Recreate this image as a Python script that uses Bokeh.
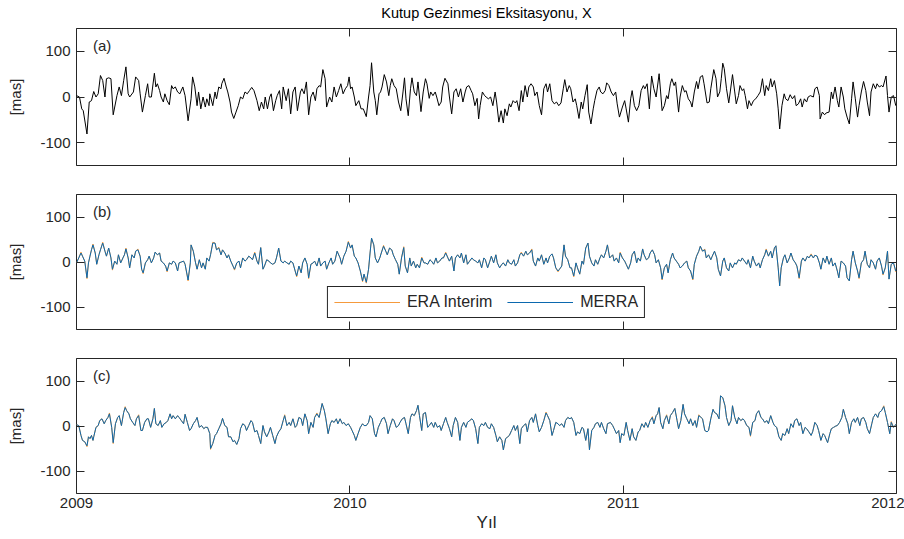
from bokeh.plotting import figure
from bokeh.models import Range1d, FixedTicker, LinearAxis, Label
from bokeh.layouts import column
from bokeh.embed import file_html
from bokeh.resources import INLINE

TITLE = "Kutup Gezinmesi Eksitasyonu, X"
X_LABEL = "Yıl"
Y_LABEL = "[mas]"
PANEL_TAGS = ["(a)", "(b)", "(c)"]
SERIES_NAMES = ["ERA Interim", "MERRA"]
YEAR_TICKS = [2009, 2010, 2011, 2012]
Y_TICKS = [-100, 0, 100]
START_YEAR = 2009
DAYS_IN_YEAR = 365

# (a) total excitation, days since 2009-01-01 and values [mas]
A_DAYS = [
    0, 4, 7, 9, 14, 17, 20, 23, 26, 29,
    32, 35, 38, 40, 43, 46, 49, 54, 57, 60,
    63, 66, 69, 71, 76, 79, 83, 85, 88, 92,
    95, 97, 100, 104, 106, 108, 111, 113, 116, 118,
    121, 124, 127, 129, 132, 135, 138, 142, 145, 149,
    153, 155, 158, 161, 163, 166, 169, 172, 174, 177,
    178, 182, 185, 187, 190, 193, 194, 197, 200, 202,
    205, 207, 210, 213, 216, 219, 222, 225, 228, 231,
    234, 237, 241, 244, 247, 250, 252, 255, 258, 260,
    263, 266, 268, 271, 274, 276, 280, 283, 286, 289,
    292, 295, 299, 301, 304, 307, 310, 313, 316, 319,
    321, 324, 326, 329, 332, 334, 338, 341, 344, 347,
    350, 353, 356, 359, 362, 364,
    366, 368, 371, 373, 377, 380, 383, 387, 390, 392,
    394, 397, 399, 401, 404, 406, 408, 411, 414, 417,
    419, 421, 424, 427, 430, 433, 436, 438, 440, 443,
    446, 448, 451, 454, 456, 460, 463, 466, 468, 471,
    473, 476, 479, 481, 484, 487, 489, 492, 496, 498,
    501, 504, 507, 510, 513, 516, 519, 521, 524, 527,
    529, 532, 535, 537, 539, 542, 545, 547, 550, 553,
    556, 559, 561, 564, 567, 570, 572, 575, 578, 580,
    583, 586, 588, 591, 594, 596, 599, 602, 604, 607,
    610, 612, 615, 618, 621, 624, 627, 629, 632, 635,
    638, 641, 644, 647, 650, 652, 655, 658, 660, 663,
    666, 668, 671, 674, 676, 679, 682, 684, 687, 690,
    692, 695, 698, 700, 703, 706, 708, 711, 714,
    717, 720, 722, 725, 729, 732, 734, 737, 740, 742,
    745, 748, 751, 754, 757, 759, 762, 765, 768, 771,
    774, 778, 780, 782, 785, 788, 790, 793, 795, 798,
    800, 804, 806, 809, 812, 814, 817, 820, 822, 825,
    828, 830, 833, 836, 838, 842, 845, 847, 851, 854,
    856, 859, 861, 863, 865, 868, 871, 873, 876, 879,
    881, 884, 886, 889, 891, 893, 896, 898, 901, 904,
    907, 910, 913, 916, 919, 921, 924, 927, 929, 932,
    935, 937, 939, 942, 945, 947, 950, 953, 956, 959,
    961, 964, 967, 969, 972, 975, 977, 980, 984, 986,
    989, 992, 993, 996, 999, 1001, 1005, 1008, 1010, 1013,
    1016, 1018, 1021, 1024, 1026, 1029, 1032, 1035, 1037, 1040,
    1043, 1045, 1048, 1051, 1054, 1056, 1059, 1061, 1064, 1067,
    1069, 1072, 1075, 1077, 1081, 1083, 1085, 1088, 1091, 1094,
]
A_VALUES = [
    3, 0, -26, -30, -81, -11, -8, 12, 0, 7,
    47, 36, 0, 40, 42, 40, -39, 3, 22, 3,
    36, 66, 7, 0, 11, 44, 36, 7, -33, 3,
    29, 0, 0, 52, 22, 29, 14, 0, -11, 7,
    -8, -17, 25, 18, 22, 11, 7, 22, 3, -52,
    -4, 44, 22, -19, 11, -26, 0, -22, -4, -19,
    7, -19, 11, -4, 22, 18, 29, 41, 22, 11,
    -11, -33, -47, -33, -19, 0, -4, 11, 7, 14,
    21, 14, -8, -30, -11, -26, 0, -26, 0, 7,
    -30, -8, 3, 14, -26, 22, -8, 18, -37, 11,
    22, -30, 11, 18, 7, 33, -39, 0, 11, -8,
    18, 25, 22, 60, 40, -22, 0, -11, 22, 0,
    14, 29, 7, 18, 25, 44,
    18, 22, 0, -19, -8, -26, -26, -43, 0, 25,
    75, 11, -8, -39, 7, 11, 22, 49, 33, 3,
    25, 40, 25, 18, -11, -30, 11, 42, -4, -41,
    18, 42, 11, 3, 33, -32, 11, 40, 29, -3,
    11, 3, 11, 0, -19, -11, 22, 41, 29, 0,
    -37, 11, 18, 0, 18, -11, 11, 22, 25, 14,
    7, -19, -3, -48, -19, 11, 3, 0, -4, 0,
    -19, 11, -11, -55, -30, -57, -26, -41, -15, -22,
    -8, -13, -8, -30, 14, -11, 25, 0, 22, 29,
    22, 3, 11, -19, -39, 18, 29, 11, 29, -8,
    -15, -11, -19, -13, 18, 38, 11, 25, 18, -11,
    -4, -19, -47, -11, -26, 3, 27, -33, -59, -26,
    -8, 14, 22, 11, 7, 14, 31, 25, 11,
    3, 11, -15, -44, -22, -8, -26, -55, -4, 14,
    -19, -30, -19, 14, 25, 18, 29, -26, 46, 18,
    0, 51, 11, -30, -19, 3, -4, 29, 40, 25,
    33, -33, 0, 25, 11, 14, -4, -11, -22, 11,
    34, 18, 44, 47, 29, -13, -11, 18, 60, 40,
    0, 11, 40, 74, 62, 18, -13, 11, 49, 11,
    -15, 3, 25, 14, 18, 3, -26, -8, -19, -8,
    -4, 3, 11, 40, 3, 25, 14, 40, 22, 36,
    7, -26, -70, -19, 7, -4, -8, 5, -4, 3,
    -19, -15, -4, -22, -4, -11, 0, 3, 0, 18,
    22, 3, -48, -33, -39, -35, -33, 11, -4, 22,
    -8, -22, 22, 0, -26, -44, -59, -4, 33, -4,
    -44, -19, 11, 34, 14, -11, -41, 11, 29, 18,
    29, 22, 25, 22, 46, 3, -33, 0, 3, -19,
]

# (b) and (c): days since 2009-01-01 and the two reanalysis series [mas]
B_DAYS = [
    0, 3, 6, 8, 11, 14, 16, 18, 20, 22,
    25, 27, 30, 32, 35, 38, 40, 43, 46, 48,
    51, 54, 56, 59, 62, 64, 66, 69, 71, 74,
    77, 79, 82, 85, 87, 89, 92, 95, 97, 100,
    103, 105, 108, 111, 113, 116, 119, 121, 124, 127,
    129, 132, 135, 137, 140, 143, 145, 149, 152, 153,
    156, 159, 161, 164, 167, 169, 172, 174, 177, 179,
    182, 185, 187, 190, 193, 195, 198, 201, 203, 206,
    209, 211, 214, 217, 219, 222, 225, 227, 230, 233,
    235, 238, 241, 243, 246, 249, 251, 254, 257, 259,
    262, 265, 267, 270, 273, 276, 278, 281, 284, 286,
    289, 292, 294, 297, 300, 302, 305, 308, 310, 313,
    316, 318, 321, 324, 326, 329, 332, 334, 337, 340,
    342, 345, 348, 352, 354, 357, 360, 363, 366, 368,
    371, 373, 376, 379, 382, 384, 387, 390, 392, 394,
    397, 399, 402, 405, 407, 410, 413, 415, 418, 421,
    423, 426, 429, 431, 434, 437, 439, 442, 445, 447,
    450, 453, 455, 458, 461, 464, 466, 469, 472, 474,
    477, 480, 482, 485, 488, 490, 493, 496, 498, 501,
    504, 506, 509, 512, 514, 517, 520, 522, 525, 528,
    530, 533, 536, 538, 541, 544, 546, 549, 552, 554,
    557, 560, 562, 565, 568, 570, 573, 576, 578, 581,
    584, 586, 589, 592, 594, 597, 600, 602, 605, 608,
    610, 613, 616, 618, 621, 624, 627, 629, 632, 635,
    637, 640, 643, 645, 648, 651, 653, 656, 659, 661,
    664, 667, 669, 672, 675, 677, 680, 683, 685, 688,
    691, 693, 696, 699, 701, 704, 707, 709, 712, 716,
    718, 721, 724, 726, 729, 732, 734, 737, 740, 742,
    745, 748, 750, 753, 756, 758, 761, 764, 766, 769,
    772, 774, 777, 780, 782, 785, 788, 790, 793, 796,
    798, 801, 804, 806, 809, 812, 815, 817, 820, 823,
    825, 828, 831, 833, 836, 839, 841, 844, 847, 849,
    852, 855, 857, 860, 863, 865, 868, 871, 873, 876,
    879, 881, 884, 887, 889, 892, 895, 897, 900, 903,
    905, 908, 911, 913, 916, 919, 921, 924, 927, 929,
    932, 934, 937, 939, 941, 944, 946, 949, 952, 954,
    957, 960, 962, 965, 968, 970, 973, 976, 978, 981,
    984, 986, 989, 992, 994, 997, 1000, 1002, 1005, 1008,
    1010, 1013, 1016, 1018, 1021, 1024, 1027, 1029, 1032, 1035,
    1037, 1040, 1043, 1045, 1048, 1051, 1053, 1056, 1059, 1061,
    1064, 1067, 1069, 1072, 1075, 1077, 1080, 1083, 1085, 1088,
    1091, 1094,
]
B_MERRA = [
    -2, 9, 20, 13, 2, -35, -2, 13, 27, 38,
    20, -5, 16, 27, 42, 24, 13, 31, 9, -16,
    2, -5, 16, -2, 9, 16, 29, 9, -13, 16,
    9, 24, 27, 13, -16, -24, -2, 5, 13, -2,
    9, 22, 16, 20, 2, -2, -9, -20, -2, -5,
    2, -2, -20, -2, 0, 2, -5, -40, -2, 38,
    24, -2, -16, 5, -13, -2, -16, 9, 2, 16,
    42, 42, 27, 31, 16, 27, 20, 9, 16, 2,
    -9, -16, -2, 2, -13, 9, 2, 5, 13, 9,
    5, 20, 2, -5, 32, -16, -9, 5, 2, -2,
    -5, -2, 9, 31, 2, -2, 2, -2, -5, 2,
    -2, -20, -31, -9, -24, -2, 9, -5, -35, -5,
    -2, 2, -9, 9, -9, -2, 2, -16, -2, 9,
    -5, 2, 24, 9, -5, 13, 24, 44, 31, 38,
    13, 9, -2, -20, -42, -27, -45, -16, 20, 53,
    38, 9, -2, 9, 20, 35, 24, 16, 31, 27,
    16, 5, -5, -27, 9, 32, -9, -24, 9, -9,
    2, -13, -5, -13, 9, -2, -2, -5, 5, 2,
    -5, 9, -2, 2, 9, 9, 20, 9, 2, 13,
    -20, 9, 16, 9, 20, -2, 16, -5, 2, 9,
    5, 2, -2, 5, -13, 9, 5, -13, 2, 13,
    -2, 16, -2, -13, -5, -2, -9, 5, -2, -5,
    5, -9, -2, 16, 20, 13, 24, 16, 20, 27,
    2, -9, 9, 2, 16, -5, 9, -2, 13, 18,
    9, -13, -20, -16, -9, 38, 13, 5, -13, -13,
    -31, -2, -13, -27, 2, -5, 31, 42, 13, -2,
    -9, 5, -5, 9, 16, 9, 24, 38, 9, 16,
    2, 9, -2, 20, 9, 2, -5, -16, -2, 16,
    24, -2, 9, 2, 29, 16, 5, 9, 20, 27,
    16, -2, 5, -13, -38, -13, -5, -24, 5, 20,
    9, 2, -5, -13, -9, -2, 2, -13, -20, -38,
    -5, 13, 24, 35, 24, 27, 9, 16, 5, 13,
    24, 9, -16, -31, 2, 9, -13, -20, -2, -13,
    -2, -5, 5, 2, 9, 2, -5, 5, -13, 13,
    2, -9, -2, -13, 5, 16, 27, 13, 24, 9,
    31, 36, -13, -53, -13, 9, 16, -2, 9, 20,
    5, -2, -9, -35, 2, 9, 2, 13, 9, 16,
    9, 15, 13, -2, -16, 9, -2, 13, -5, 9,
    -9, -2, -20, -35, 2, -2, -9, -35, -42, 5,
    24, -2, -20, -35, -2, 5, 24, -5, -13, 5,
    -2, -16, 2, 9, -9, -27, -13, 24, -38, -5,
    -2, -20,
]
B_ERA = [
    -2, 9, 22, 13, 2, -37, -2, 13, 27, 40,
    20, -5, 16, 27, 44, 24, 13, 31, 9, -18,
    2, -5, 16, -2, 9, 16, 31, 9, -13, 16,
    9, 24, 29, 13, -16, -26, -2, 5, 13, -2,
    9, 22, 16, 20, 2, -2, -9, -22, -2, -5,
    2, -2, -20, -2, 0, 2, -5, -42, -2, 38,
    24, -2, -16, 5, -13, -2, -16, 9, 2, 16,
    44, 42, 27, 33, 16, 27, 20, 9, 16, 2,
    -9, -18, -2, 2, -13, 9, 2, 5, 13, 9,
    5, 22, 2, -5, 32, -16, -9, 5, 2, -2,
    -5, -2, 9, 31, 2, -2, 2, -2, -5, 2,
    -2, -20, -33, -9, -24, -2, 9, -5, -37, -5,
    -2, 2, -9, 9, -9, -2, 2, -16, -2, 9,
    -5, 2, 24, 9, -5, 13, 24, 46, 31, 38,
    13, 9, -2, -20, -44, -27, -47, -16, 20, 53,
    38, 9, -2, 9, 20, 37, 24, 16, 31, 27,
    16, 5, -5, -27, 9, 34, -9, -24, 9, -9,
    2, -13, -5, -13, 11, -2, -2, -5, 5, 2,
    -5, 9, -2, 2, 9, 9, 22, 9, 2, 13,
    -20, 9, 16, 9, 20, -2, 16, -5, 2, 9,
    5, 2, -2, 5, -13, 9, 5, -13, 2, 13,
    -2, 16, -2, -13, -5, -2, -9, 5, -2, -5,
    5, -9, -2, 16, 22, 13, 24, 16, 20, 29,
    2, -9, 9, 2, 16, -5, 9, -2, 13, 18,
    9, -13, -22, -16, -9, 38, 13, 5, -13, -13,
    -33, -2, -13, -27, 2, -5, 31, 42, 13, -2,
    -9, 5, -5, 9, 16, 9, 24, 38, 9, 16,
    2, 9, -2, 22, 9, 2, -5, -16, -2, 16,
    24, -2, 9, 2, 29, 16, 5, 9, 20, 27,
    16, -2, 5, -13, -40, -13, -5, -24, 5, 20,
    9, 2, -5, -13, -9, -2, 2, -13, -20, -40,
    -5, 13, 24, 35, 24, 29, 9, 16, 5, 13,
    24, 9, -16, -31, 2, 9, -13, -20, -2, -13,
    -2, -5, 5, 2, 9, 2, -5, 5, -13, 13,
    2, -9, -2, -13, 5, 16, 29, 13, 24, 9,
    31, 36, -13, -53, -13, 9, 16, -2, 9, 20,
    5, -2, -9, -37, 2, 9, 2, 13, 9, 18,
    9, 15, 13, -2, -16, 9, -2, 13, -5, 9,
    -9, -2, -20, -35, 2, -2, -9, -35, -42, 5,
    24, -2, -20, -37, -2, 5, 24, -5, -13, 5,
    -2, -16, 2, 9, -9, -29, -13, 24, -38, -5,
    -2, -22,
]

C_DAYS = [
    0, 3, 6, 8, 11, 14, 16, 18, 20, 22,
    23, 26, 29, 31, 34, 37, 39, 42, 44, 47,
    49, 52, 55, 57, 60, 63, 65, 67, 70, 72,
    75, 78, 80, 83, 86, 88, 91, 94, 96, 99,
    102, 104, 106, 109, 112, 114, 117, 120, 122, 125,
    127, 129, 132, 135, 137, 140, 143, 145, 148, 151,
    153, 156, 159, 161, 164, 167, 170, 172, 175, 178,
    179, 182, 185, 187, 190, 193, 195, 198, 201, 203,
    206, 209, 211, 214, 217, 219, 222, 225, 227, 230,
    233, 235, 238, 241, 243, 246, 249, 251, 254, 257,
    259, 262, 265, 267, 270, 273, 276, 278, 281, 284,
    286, 289, 292, 294, 297, 300, 302, 305, 308, 310,
    313, 316, 318, 321, 324, 326, 328, 331, 333, 336,
    339, 341, 344, 347, 349, 352, 355, 357, 360, 363,
    366, 368, 371, 373, 376, 379, 382, 384, 387, 390,
    392, 395, 398, 400, 403, 406, 408, 411, 414, 416,
    419, 422, 424, 427, 430, 432, 435, 438, 440, 443,
    446, 448, 451, 454, 456, 458, 461, 463, 466, 469,
    471, 474, 477, 479, 482, 485, 487, 490, 493, 495,
    498, 501, 503, 506, 509, 512, 514, 517, 520, 522,
    525, 528, 530, 533, 536, 538, 541, 544, 546, 549,
    552, 554, 557, 560, 562, 565, 568, 570, 573, 576,
    578, 581, 584, 586, 589, 592, 594, 597, 600, 602,
    605, 608, 610, 613, 616, 618, 621, 624, 627, 629,
    632, 635, 637, 640, 643, 645, 648, 651, 653, 656,
    659, 661, 664, 667, 669, 672, 675, 677, 680, 683,
    685, 688, 691, 693, 696, 699, 701, 704, 707, 709,
    713, 716, 718, 721, 724, 726, 728, 731, 734, 736,
    739, 742, 744, 747, 750, 752, 755, 758, 760, 763,
    766, 769, 771, 774, 776, 778, 780, 783, 785, 788,
    791, 793, 796, 799, 802, 804, 807, 810, 812, 815,
    818, 820, 823, 826, 828, 831, 834, 836, 839, 842,
    844, 847, 850, 852, 855, 858, 860, 863, 866, 868,
    871, 874, 876, 879, 882, 884, 887, 890, 892, 895,
    898, 900, 903, 906, 908, 911, 914, 916, 919, 922,
    924, 927, 930, 932, 935, 938, 941, 943, 946, 949,
    951, 954, 957, 959, 962, 965, 967, 970, 973, 975,
    978, 981, 983, 986, 989, 991, 994, 997, 999, 1003,
    1006, 1008, 1011, 1014, 1016, 1019, 1022, 1024, 1027, 1030,
    1032, 1035, 1038, 1040, 1043, 1046, 1048, 1051, 1054, 1056,
    1059, 1062, 1064, 1067, 1070, 1072, 1075, 1078, 1080, 1083,
    1086, 1088, 1091, 1095,
]
C_MERRA = [
    3, 1, -21, -32, -35, -44, -24, -28, -21, -32,
    -24, -3, 1, 12, 16, 5, 12, 19, 27, -3,
    -37, 5, 19, 23, 1, 30, 41, 34, 27, 16,
    8, 1, 16, 23, -10, -10, 8, 16, 16, -3,
    16, 39, 5, 1, 12, -3, 5, 8, 12, 27,
    16, 23, 16, 23, 19, 12, 5, 26, 8, -10,
    -6, 5, 12, 19, -3, 1, -6, -3, -3, -17,
    -50, -39, -21, -17, -6, 5, 17, 1, -3, -24,
    -24, -35, -32, -41, -28, -6, 5, 1, -10, 1,
    12, 8, -13, -10, -21, -39, 1, -13, -24, -13,
    -3, -21, -39, -24, -13, -6, 12, 23, 1, 8,
    1, 16, -3, 1, 19, 16, 1, 27, 12, -17,
    8, -3, 19, 27, 19, 34, 50, 34, 16, -17,
    5, 12, 8, 16, 5, 16, 5, 8, 1, 5,
    -3, -10, -21, -32, -17, -3, 5, 1, 1, 8,
    23, 16, -17, -24, -3, 8, 16, 19, 5, -17,
    1, 16, 12, -3, 1, 8, 16, 19, 5, -17,
    19, 27, 23, 34, 46, 23, -10, 27, 30, -3,
    1, 8, -3, 8, -3, 1, -10, 5, 19, 8,
    -6, -24, 1, 19, 8, -32, -3, 8, -3, 8,
    12, 16, 12, -6, -39, -3, 5, 1, 8, -3,
    -6, 5, -3, -21, -35, -24, -32, -53, -28, -24,
    -21, -10, 1, -10, 1, -39, -6, 1, 5, -13,
    12, 19, 8, 27, 1, -13, -3, 12, 29, 23,
    12, -21, -10, 8, 5, 1, 5, -3, 12, 19,
    16, 19, 8, -21, -13, -17, -3, -6, -32, -6,
    -53, -10, -3, 5, 8, -3, 8, -6, -17, 5,
    8, 1, -6, -17, -10, -37, -17, -21, 8, -10,
    -32, -6, -24, -32, -13, -10, 5, -3, 8, -3,
    12, 19, 5, 23, 27, 41, 8, -6, 12, 23,
    5, 23, 30, 39, 12, -6, 12, 48, 27, 16,
    5, 16, 1, 12, -3, 23, 19, 16, -10, -13,
    -10, 16, 37, 30, 27, 16, 67, 63, 45, 19,
    1, 12, 45, 19, 5, 19, 12, 16, 12, 1,
    -3, -21, 8, 12, 27, 34, 19, 16, 8, 12,
    5, 23, 8, 1, -3, -24, -32, -17, -21, -6,
    -17, 5, -3, 12, 16, 1, 8, -17, -3, -6,
    -13, -21, -13, 8, 1, -10, -32, -17, -21, -37,
    -17, -6, -3, 0, 1, 8, 19, 37, 19, 5,
    -17, 8, 16, 8, 19, 1, 16, 19, 8, -6,
    -17, 5, 19, 27, 19, 30, 34, 43, 30, 8,
    -17, 8, -3, 5,
]
C_ERA = [
    3, 1, -21, -32, -35, -46, -24, -28, -21, -32,
    -24, -3, 1, 12, 16, 5, 12, 19, 29, -3,
    -39, 5, 19, 23, 1, 30, 43, 34, 27, 16,
    8, 1, 16, 25, -10, -10, 8, 16, 16, -3,
    16, 39, 5, 1, 12, -3, 5, 8, 12, 27,
    16, 23, 16, 23, 19, 12, 5, 26, 8, -10,
    -6, 5, 12, 19, -3, 1, -6, -3, -3, -17,
    -52, -39, -21, -17, -6, 5, 17, 1, -3, -24,
    -24, -35, -32, -41, -28, -6, 5, 1, -10, 1,
    12, 8, -13, -10, -21, -39, 1, -13, -24, -13,
    -3, -21, -39, -24, -13, -6, 12, 25, 1, 8,
    1, 16, -3, 1, 19, 16, 1, 27, 12, -17,
    8, -3, 19, 29, 19, 34, 50, 34, 16, -17,
    5, 12, 8, 16, 5, 16, 5, 8, 1, 5,
    -3, -10, -21, -32, -17, -3, 5, 1, 1, 8,
    23, 16, -17, -24, -3, 8, 16, 19, 5, -17,
    1, 16, 12, -3, 1, 8, 16, 19, 5, -17,
    19, 27, 23, 34, 46, 23, -10, 27, 30, -3,
    1, 8, -3, 8, -3, 1, -10, 5, 19, 8,
    -6, -24, 1, 19, 8, -32, -3, 8, -3, 8,
    12, 16, 12, -6, -39, -3, 5, 1, 8, -3,
    -6, 5, -3, -21, -35, -24, -32, -53, -28, -24,
    -21, -10, 1, -10, 1, -39, -6, 1, 5, -13,
    12, 19, 8, 27, 1, -13, -3, 12, 31, 23,
    12, -21, -10, 8, 5, 1, 5, -3, 12, 19,
    16, 19, 8, -21, -13, -17, -3, -6, -32, -6,
    -53, -10, -3, 5, 8, -3, 8, -6, -17, 5,
    8, 1, -6, -17, -10, -37, -17, -21, 8, -10,
    -32, -6, -24, -32, -13, -10, 5, -3, 8, -3,
    12, 21, 5, 23, 27, 41, 8, -6, 12, 25,
    5, 23, 30, 39, 12, -6, 12, 48, 27, 16,
    5, 16, 1, 12, -3, 25, 19, 16, -10, -13,
    -10, 16, 37, 30, 27, 16, 67, 63, 45, 19,
    1, 12, 45, 19, 5, 19, 12, 16, 12, 1,
    -3, -23, 8, 12, 27, 34, 19, 16, 8, 12,
    5, 23, 8, 1, -3, -24, -32, -17, -21, -6,
    -17, 5, -3, 12, 16, 1, 8, -17, -3, -6,
    -13, -21, -13, 8, 1, -10, -32, -17, -21, -37,
    -17, -6, -3, 0, 1, 8, 19, 37, 19, 5,
    -17, 8, 16, 8, 19, 1, 16, 19, 8, -6,
    -17, 5, 19, 27, 19, 30, 34, 45, 30, 8,
    -17, 10, -3, 5,
]

FONT = "Liberation Sans"
AXIS_COLOR = "#262626"
ERA_COLOR = "#F59A3C"
MERRA_COLOR = "#0B68AE"
FRAME_W = 820


def years(days):
    return [START_YEAR + d / DAYS_IN_YEAR for d in days]


def make_axis(ticks, show_labels, size="15px"):
    ax = LinearAxis(
        ticker=FixedTicker(ticks=ticks, minor_ticks=[]),
        major_label_overrides={t: str(t) for t in ticks},
        axis_line_color=None,
        major_tick_line_color=AXIS_COLOR,
        major_tick_in=8, major_tick_out=0,
        minor_tick_line_color=None,
        major_label_text_font=FONT,
        major_label_text_color=AXIS_COLOR,
        major_label_text_font_size=size,
        major_label_standoff=5,
    )
    if not show_labels:
        # tick marks only, no tick labels
        ax.major_label_text_color = None
        ax.major_label_text_font_size = "1px"
        ax.major_label_standoff = 0
    return ax


def make_panel(tag, top, frame_h, bottom, show_x):
    p = figure(width=904, height=top + frame_h + bottom,
               frame_width=FRAME_W, frame_height=frame_h,
               x_range=Range1d(YEAR_TICKS[0], YEAR_TICKS[-1]),
               y_range=Range1d(-150, 150),
               x_axis_type=None, y_axis_type=None,
               output_backend="svg", toolbar_location=None,
               min_border_left=76, min_border_right=8,
               min_border_top=top, min_border_bottom=bottom)
    p.outline_line_color = AXIS_COLOR
    p.outline_line_width = 1
    p.background_fill_color = "white"
    p.border_fill_color = "white"

    xb = make_axis(YEAR_TICKS, show_x)
    if show_x:
        xb.major_label_standoff = 4
        xb.axis_label = X_LABEL
        xb.axis_label_text_font = FONT
        xb.axis_label_text_font_size = "17px"
        xb.axis_label_text_font_style = "normal"
        xb.axis_label_text_color = AXIS_COLOR
        xb.axis_label_standoff = 2
    p.add_layout(xb, "below")
    p.add_layout(make_axis(YEAR_TICKS, False), "above")

    yl = make_axis(Y_TICKS, True)
    yl.major_label_standoff = 6
    yl.axis_label = Y_LABEL
    yl.axis_label_text_font = FONT
    yl.axis_label_text_font_size = "15px"
    yl.axis_label_text_font_style = "normal"
    yl.axis_label_text_color = AXIS_COLOR
    yl.axis_label_standoff = 13
    p.add_layout(yl, "left")
    p.add_layout(make_axis(Y_TICKS, False), "right")

    p.add_layout(Label(x=2009.06, y=112, text=tag, text_font=FONT,
                       text_font_size="15px", text_baseline="middle",
                       text_color=AXIS_COLOR))
    return p


# title strip above the panels (same horizontal frame as the panels)
pt = figure(width=904, height=24, frame_width=FRAME_W, frame_height=24,
            x_range=Range1d(0, 1), y_range=Range1d(0, 1),
            x_axis_type=None, y_axis_type=None,
            output_backend="svg", toolbar_location=None,
            min_border_left=76, min_border_right=8,
            min_border_top=0, min_border_bottom=0)
pt.outline_line_color = None
pt.background_fill_color = "white"
pt.border_fill_color = "white"
pt.add_layout(Label(x=0.5, y=0.5, text=TITLE, text_font=FONT,
                    text_font_size="14.5px", text_align="center",
                    text_baseline="middle", text_color="black"))

pa = make_panel(PANEL_TAGS[0], 4, 137, 14, False)
pa.line(years(A_DAYS), A_VALUES, line_color="black", line_width=1)

pb = make_panel(PANEL_TAGS[1], 15, 135, 14, False)
pb.line(years(B_DAYS), B_ERA, line_color=ERA_COLOR, line_width=1,
        legend_label=SERIES_NAMES[0])
pb.line(years(B_DAYS), B_MERRA, line_color=MERRA_COLOR, line_width=1,
        legend_label=SERIES_NAMES[1])
lg = pb.legend[0]
lg.orientation = "horizontal"
lg.location = "bottom_center"
lg.border_line_color = AXIS_COLOR
lg.border_line_width = 1
lg.border_line_alpha = 1
lg.background_fill_color = "white"
lg.background_fill_alpha = 1
lg.label_text_font = FONT
lg.label_text_font_size = "16px"
lg.label_text_color = AXIS_COLOR
lg.glyph_width = 66
lg.glyph_height = 16
lg.label_height = 16
lg.label_standoff = 7
lg.spacing = 15
lg.padding = 6
lg.margin = 11

pc = make_panel(PANEL_TAGS[2], 15, 135, 46, True)
pc.line(years(C_DAYS), C_ERA, line_color=ERA_COLOR, line_width=1)
pc.line(years(C_DAYS), C_MERRA, line_color=MERRA_COLOR, line_width=1)

layout = column(pt, pa, pb, pc, spacing=0)
open("out.html", "w").write(file_html(layout, INLINE))
